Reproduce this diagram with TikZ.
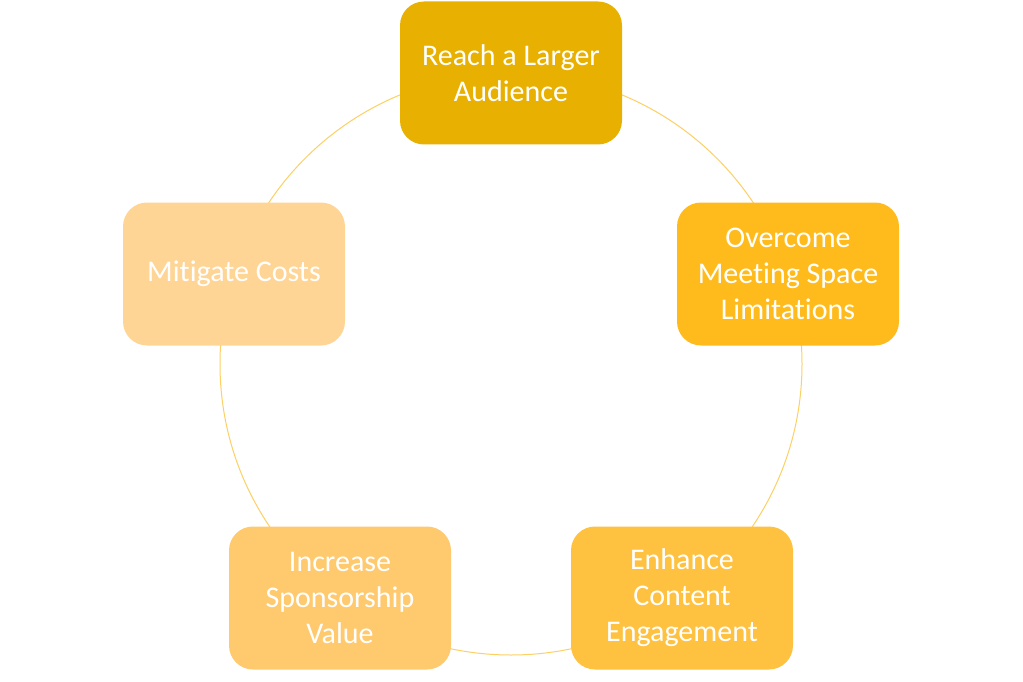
\documentclass[tikz,border=0pt]{standalone}
\usepackage{fontspec}
\setmainfont[Ligatures=NoCommon]{Carlito}
\usetikzlibrary{positioning}

\definecolor{topgold}{RGB}{232,176,0}
\definecolor{rightgold}{RGB}{255,187,28}
\definecolor{brgold}{RGB}{255,193,64}
\definecolor{blgold}{RGB}{255,201,110}
\definecolor{leftgold}{RGB}{255,213,150}
\definecolor{ringcol}{RGB}{252,208,100}

\begin{document}
\begin{tikzpicture}[x = 1pt, y = -1pt, % pixel like units
                font = \fontsize{30}{36}\selectfont
            ]

            \tikzstyle{goal}=[rounded corners = 24pt, minimum width = 222pt,
            minimum height = 143pt, text = white, align = center, inner sep = 0pt]

            \useasboundingbox (0,0) rectangle (1023,682);

            % ring behind the boxes
            \coordinate (hub) at (511,364);
            \draw[ringcol, line width = 1pt] (hub) circle (291);

            \node[goal, fill = topgold] (reach) at (511,73) {Reach a Larger\\Audience};
            \node[goal, fill = rightgold] (space) at (788,274) {Overcome\\Meeting Space\\Limitations};
            \node[goal, fill = brgold] (content) at (682,598) {Enhance\\Content\\Engagement};
            \node[goal, fill = blgold] (sponsor) at (340,598) {Increase\\Sponsorship\\Value};
            \node[goal, fill = leftgold] (costs) at (234,274) {Mitigate Costs};
\end{tikzpicture}
\end{document}
